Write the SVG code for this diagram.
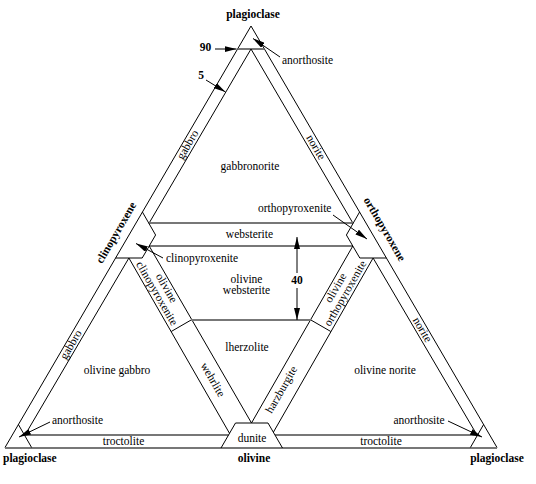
<svg xmlns="http://www.w3.org/2000/svg" width="536" height="484" viewBox="0 0 536 484">
<style>
.k{stroke:#000;stroke-width:1;fill:none}
.g{stroke:#777;stroke-width:2;fill:none}
text{font-family:"Liberation Serif","Times New Roman",serif;font-size:11.5px;fill:#000}
.b{font-weight:bold}
.m{text-anchor:middle}
</style>
<defs>
<marker id="ah" viewBox="0 0 12 6" refX="12" refY="3" markerWidth="12" markerHeight="6" markerUnits="userSpaceOnUse" orient="auto"><path d="M0,0 L12,3 L0,6 z" fill="#000"/></marker>
</defs>
<rect width="536" height="484" fill="#fff"/>
<g id="boundaries">
<path class="k" d="M5,447.5 L251,26 L497,447.5"/>
<path class="g" d="M5,448 H497"/>
<path class="g" d="M237.6,49 H264.4"/>
<path class="k" d="M149,223.3 L251,49 L353,223.3"/>
<path class="g" d="M149,223 H353"/>
<path class="g" d="M149.2,246 H352.8"/>
<path class="k" d="M142.4,212 L155.6,235 L142.2,258 L115.6,258"/>
<path class="k" d="M359.6,212 L346.4,235 L359.8,258 L386.4,258"/>
<path class="k" d="M149.2,246 L251.5,423 L352.8,246"/>
<path class="k" d="M25,435 L128.9,258 L229.5,433.3"/>
<path class="k" d="M477,435 L373.1,258 L273.5,432"/>
<path class="k" d="M191.1,320 L171.2,331.5"/>
<path class="k" d="M310.9,320 L330.8,331.5"/>
<path class="g" d="M191.1,320 H310.9"/>
<path class="g" d="M25,435 H228.5"/>
<path class="g" d="M275,435 H477"/>
<path class="k" d="M18.4,424.5 L31.6,447.5"/>
<path class="k" d="M483.6,424.5 L470.4,447.5"/>
<path class="k" d="M221,448 L235.5,423 L268,423 L282.5,448"/>
</g>
<g id="connectors">
<path class="k" d="M215,49 L236.5,49" marker-end="url(#ah)"/>
<path class="k" d="M206,80 L225.5,92" marker-end="url(#ah)"/>
<path class="k" d="M280,57 L253,38.5" marker-end="url(#ah)"/>
<path class="k" d="M333,215 L367,239" marker-end="url(#ah)"/>
<path class="k" d="M163,258 L136,243.5" marker-end="url(#ah)"/>
<path class="k" d="M50,422 L19,437" marker-end="url(#ah)"/>
<path class="k" d="M448,421 L482,437" marker-end="url(#ah)"/>
<path class="k" d="M297,273 L297,237" marker-end="url(#ah)"/>
<path class="k" d="M297,288 L297,320" marker-end="url(#ah)"/>
</g>
<g id="vertex-labels">
<text class="b m" x="253" y="18">plagioclase</text>
<text class="b" x="3" y="462">plagioclase</text>
<text class="b m" x="254" y="462">olivine</text>
<text class="b m" x="497" y="462">plagioclase</text>
<text class="b m" transform="translate(119.3,234.5) rotate(-59.7)">clinopyroxene</text>
<text class="b m" transform="translate(381.5,231) rotate(59.7)">orthopyroxene</text>
</g>
<g id="scale-labels">
<text class="b m" x="205.5" y="51">90</text>
<text class="b m" x="201" y="79">5</text>
<text class="b m" x="297" y="284">40</text>
</g>
<g id="field-anorthosite-top"><text x="282" y="64">anorthosite</text></g>
<g id="field-gabbro-top"><text class="m" transform="translate(188.2,145) rotate(-59.7)" y="3">gabbro</text></g>
<g id="field-norite-top"><text class="m" transform="translate(315.3,147.5) rotate(59.7)" y="3">norite</text></g>
<g id="field-gabbronorite"><text class="m" x="250" y="170">gabbronorite</text></g>
<g id="field-orthopyroxenite"><text x="258" y="212">orthopyroxenite</text></g>
<g id="field-websterite"><text class="m" x="249.5" y="238">websterite</text></g>
<g id="field-clinopyroxenite"><text x="166" y="261.5">clinopyroxenite</text></g>
<g id="field-olivine-websterite"><text class="m" x="246.5" y="283">olivine</text><text class="m" x="246.5" y="294">websterite</text></g>
<g id="field-olivine-clinopyroxenite"><g transform="translate(161.2,291) rotate(60.1)"><text class="m" y="-2.5">olivine</text><text class="m" y="8.5">clinopyroxenite</text></g></g>
<g id="field-olivine-orthopyroxenite"><g transform="translate(341,291) rotate(-60.1)"><text class="m" y="-2.5">olivine</text><text class="m" y="8.5">orthopyroxenite</text></g></g>
<g id="field-lherzolite"><text class="m" x="247" y="351">lherzolite</text></g>
<g id="field-wehrlite"><text class="m" transform="translate(212.2,380) rotate(60.1)" y="3">wehrlite</text></g>
<g id="field-harzburgite"><text class="m" transform="translate(282,390) rotate(-60.1)" y="3">harzburgite</text></g>
<g id="field-olivine-gabbro"><text class="m" x="117" y="374">olivine gabbro</text></g>
<g id="field-olivine-norite"><text class="m" x="385" y="374">olivine norite</text></g>
<g id="field-gabbro-bl"><text class="m" transform="translate(71.5,345) rotate(-59.7)" y="3">gabbro</text></g>
<g id="field-norite-br"><text class="m" transform="translate(421.8,330) rotate(59.7)" y="3">norite</text></g>
<g id="field-anorthosite-bl"><text x="52" y="423.5">anorthosite</text></g>
<g id="field-anorthosite-br"><text x="393.5" y="423.5">anorthosite</text></g>
<g id="field-troctolite-l"><text class="m" x="123.5" y="445">troctolite</text></g>
<g id="field-troctolite-r"><text class="m" x="381" y="445">troctolite</text></g>
<g id="field-dunite"><text class="m" x="252" y="441.5">dunite</text></g>
</svg>
